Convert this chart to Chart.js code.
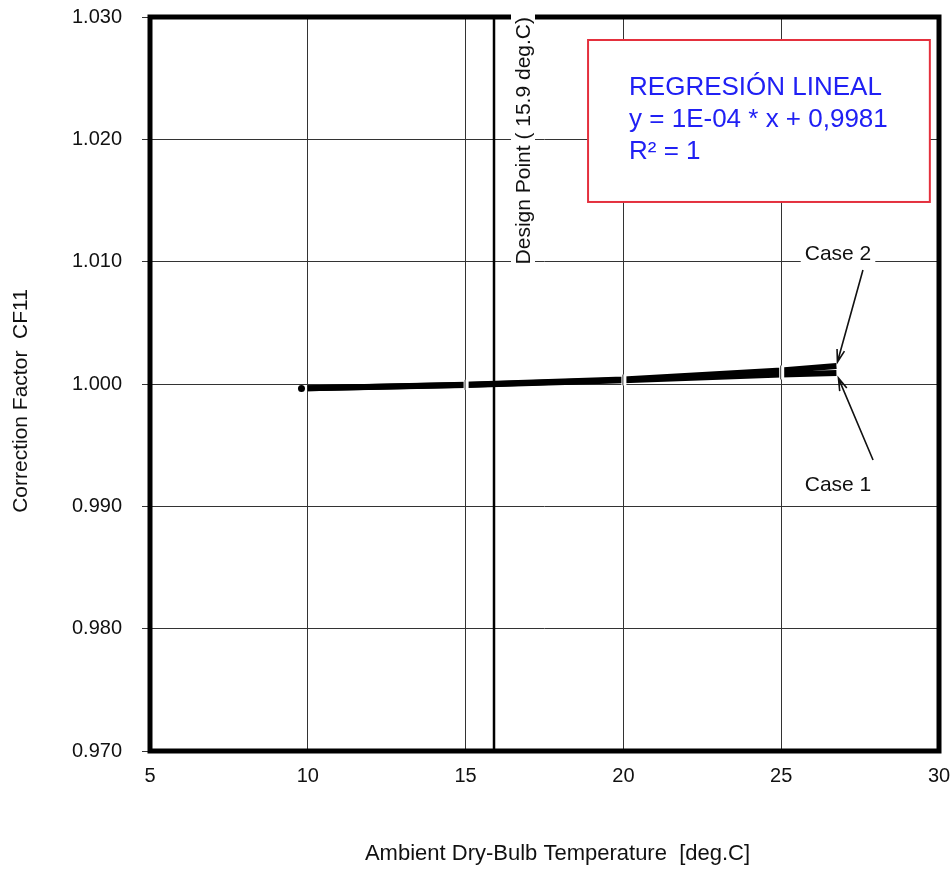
<!DOCTYPE html>
<html>
<head>
<meta charset="utf-8">
<title>Correction Factor CF11</title>
<script src="https://cdn.jsdelivr.net/npm/chart.js@4.4.1/dist/chart.umd.min.js"></script>
<style>
  html, body { margin: 0; padding: 0; background: #fff; }
</style>
</head>
<body>
<canvas id="cf11Chart" width="952" height="869"></canvas>
<script>
// Correction factor CF11 against ambient dry-bulb temperature
const temperatures = [10, 15, 20, 25, 26.75];
const case1Values = [0.99965, 0.99992, 1.00030, 1.00078, 1.00089];
const case2Values = [0.99965, 0.99993, 1.00036, 1.00110, 1.00147];
const strayTemperature = [9.8];
const strayValue = [0.99964];

const xTicks = [5, 10, 15, 20, 25, 30];
const yTicks = [0.970, 0.980, 0.990, 1.000, 1.010, 1.020, 1.030];
const designPoint = 15.9;
const regressionLines = ['REGRESIÓN LINEAL', 'y = 1E-04 * x + 0,9981', 'R² = 1'];
const xTitle = 'Ambient Dry-Bulb Temperature  [deg.C]';
const yTitle = 'Correction Factor  CF11';

const FONT = '"Liberation Sans", Arial, Helvetica, sans-serif';
const INK = '#111';

function toPoints(xs, ys) {
    return xs.map((x, i) => ({ x: x, y: ys[i] }));
}

function drawArrow(ctx, x0, y0, x1, y1) {
    const angle = Math.atan2(y1 - y0, x1 - x0);
    const head = 13;
    ctx.beginPath();
    ctx.moveTo(x0, y0);
    ctx.lineTo(x1, y1);
    ctx.moveTo(x1 - head * Math.cos(angle - 0.3), y1 - head * Math.sin(angle - 0.3));
    ctx.lineTo(x1, y1);
    ctx.lineTo(x1 - head * Math.cos(angle + 0.3), y1 - head * Math.sin(angle + 0.3));
    ctx.stroke();
}

function boxedLabel(ctx, text, cx, cy) {
    const w = ctx.measureText(text).width;
    ctx.fillStyle = '#fff';
    ctx.fillRect(cx - w / 2 - 4, cy - 12, w + 8, 24);
    ctx.fillStyle = INK;
    ctx.fillText(text, cx, cy);
}

const overlayPlugin = {
    id: 'overlay',
    beforeDatasetsDraw(chart) {
        const { ctx, chartArea: area, scales: { x } } = chart;
        const dx = x.getPixelForValue(designPoint);
        ctx.save();
        ctx.strokeStyle = '#000';
        ctx.lineWidth = 2.5;
        ctx.beginPath();
        ctx.moveTo(dx, area.top);
        ctx.lineTo(dx, area.bottom);
        ctx.stroke();
        ctx.restore();
    },
    afterDatasetsDraw(chart) {
        const { ctx, chartArea: area, scales: { x, y } } = chart;
        ctx.save();

        // small white breaks where the vertical grid crosses the curves
        xTicks.forEach(t => {
            const i = temperatures.indexOf(t);
            if (i <= 0) return;
            const px = x.getPixelForValue(t);
            const y1 = y.getPixelForValue(case1Values[i]);
            const y2 = y.getPixelForValue(case2Values[i]);
            const top = Math.min(y1, y2) - 5;
            const bottom = Math.max(y1, y2) + 5;
            ctx.fillStyle = '#fff';
            ctx.fillRect(px - 2, top, 5, bottom - top);
            ctx.strokeStyle = '#333';
            ctx.lineWidth = 1;
            ctx.beginPath();
            ctx.moveTo(px - 0.5, top);
            ctx.lineTo(px - 0.5, bottom);
            ctx.stroke();
        });

        // heavy frame round the plot
        ctx.strokeStyle = '#000';
        ctx.lineWidth = 5;
        ctx.strokeRect(area.left, area.top, area.right - area.left, area.bottom - area.top);

        // design point caption, written upwards beside its line
        const dx = x.getPixelForValue(designPoint) + 29;
        const caption = 'Design Point ( 15.9 deg.C)';
        ctx.font = '21px ' + FONT;
        const cw = ctx.measureText(caption).width;
        ctx.translate(dx, area.top);
        ctx.rotate(-Math.PI / 2);
        ctx.fillStyle = '#fff';
        ctx.fillRect(-cw - 3, -12, cw + 10, 24);
        ctx.fillStyle = INK;
        ctx.textAlign = 'right';
        ctx.textBaseline = 'middle';
        ctx.fillText(caption, 0, 1);
        ctx.setTransform(1, 0, 0, 1, 0, 0);

        // regression result box
        const bx0 = x.getPixelForValue(18.88);
        const bx1 = x.getPixelForValue(29.71);
        const by0 = y.getPixelForValue(1.02812);
        const by1 = y.getPixelForValue(1.01488);
        ctx.fillStyle = '#fff';
        ctx.fillRect(bx0, by0, bx1 - bx0, by1 - by0);
        ctx.strokeStyle = '#e4303d';
        ctx.lineWidth = 2;
        ctx.strokeRect(bx0, by0, bx1 - bx0, by1 - by0);
        ctx.fillStyle = '#2020f4';
        ctx.font = '26px ' + FONT;
        ctx.textAlign = 'left';
        ctx.textBaseline = 'alphabetic';
        regressionLines.forEach((line, i) => {
            ctx.fillText(line, bx0 + 41, by0 + 55 + i * 32);
        });

        // case labels with arrows to the end of each curve
        ctx.font = '21px ' + FONT;
        ctx.textAlign = 'center';
        ctx.textBaseline = 'middle';
        boxedLabel(ctx, 'Case 2', x.getPixelForValue(26.8), y.getPixelForValue(1.01063));
        boxedLabel(ctx, 'Case 1', x.getPixelForValue(26.8), y.getPixelForValue(0.99174));

        const last = temperatures.length - 1;
        const endX = x.getPixelForValue(temperatures[last]);
        ctx.strokeStyle = INK;
        ctx.lineWidth = 1.6;
        drawArrow(ctx, x.getPixelForValue(27.59), y.getPixelForValue(1.00932),
            endX + 1, y.getPixelForValue(case2Values[last]) - 4);
        drawArrow(ctx, x.getPixelForValue(27.91), y.getPixelForValue(0.99379),
            endX + 2, y.getPixelForValue(case1Values[last]) + 5);

        // axis titles, set a little off the axis centres
        const midX = (area.left + area.right) / 2;
        const midY = (area.top + area.bottom) / 2;
        ctx.fillStyle = INK;
        ctx.textAlign = 'center';
        ctx.textBaseline = 'middle';
        ctx.font = '22px ' + FONT;
        ctx.fillText(xTitle, midX + 13, chart.height - 15);
        ctx.font = '21px ' + FONT;
        ctx.translate(21, midY + 17);
        ctx.rotate(-Math.PI / 2);
        ctx.fillText(yTitle, 0, 0);

        ctx.restore();
    }
};

const ctx = document.getElementById('cf11Chart').getContext('2d');
new Chart(ctx, {
    type: 'scatter',
    data: {
        datasets: [
            {
                label: 'Case 1',
                data: toPoints(temperatures, case1Values),
                showLine: true,
                borderColor: '#000',
                borderWidth: 6,
                pointRadius: 0,
                tension: 0
            },
            {
                label: 'Case 2',
                data: toPoints(temperatures, case2Values),
                showLine: true,
                borderColor: '#000',
                borderWidth: 6,
                pointRadius: 0,
                tension: 0
            },
            {
                label: 'Stray point',
                data: toPoints(strayTemperature, strayValue),
                pointRadius: 3.5,
                backgroundColor: '#000',
                borderWidth: 0
            }
        ]
    },
    options: {
        responsive: false,
        animation: false,
        devicePixelRatio: 1,
        layout: { padding: { top: 17, right: 13, left: 0, bottom: 0 } },
        plugins: {
            legend: { display: false },
            tooltip: { enabled: false }
        },
        scales: {
            x: {
                type: 'linear',
                min: xTicks[0],
                max: xTicks[xTicks.length - 1],
                afterBuildTicks: scale => { scale.ticks = xTicks.map(v => ({ value: v })); },
                afterFit: scale => {
                    scale.height = 118;
                    scale.paddingLeft = 0;
                    scale.paddingRight = 0;
                },
                border: { display: false },
                grid: { color: '#333', lineWidth: 1, drawTicks: false },
                ticks: {
                    padding: 13,
                    color: INK,
                    font: { family: FONT, size: 20 },
                    maxRotation: 0,
                    autoSkip: false
                },
                title: { display: false }
            },
            y: {
                type: 'linear',
                min: yTicks[0],
                max: yTicks[yTicks.length - 1],
                afterBuildTicks: scale => { scale.ticks = yTicks.map(v => ({ value: v })); },
                afterFit: scale => {
                    scale.width = 150;
                    scale.paddingTop = 0;
                    scale.paddingBottom = 0;
                },
                border: { display: false },
                grid: { color: '#333', lineWidth: 1, tickLength: 8 },
                ticks: {
                    padding: 20,
                    color: INK,
                    font: { family: FONT, size: 20 },
                    callback: v => v.toFixed(3)
                },
                title: { display: false }
            }
        }
    },
    plugins: [overlayPlugin]
});
</script>
</body>
</html>
